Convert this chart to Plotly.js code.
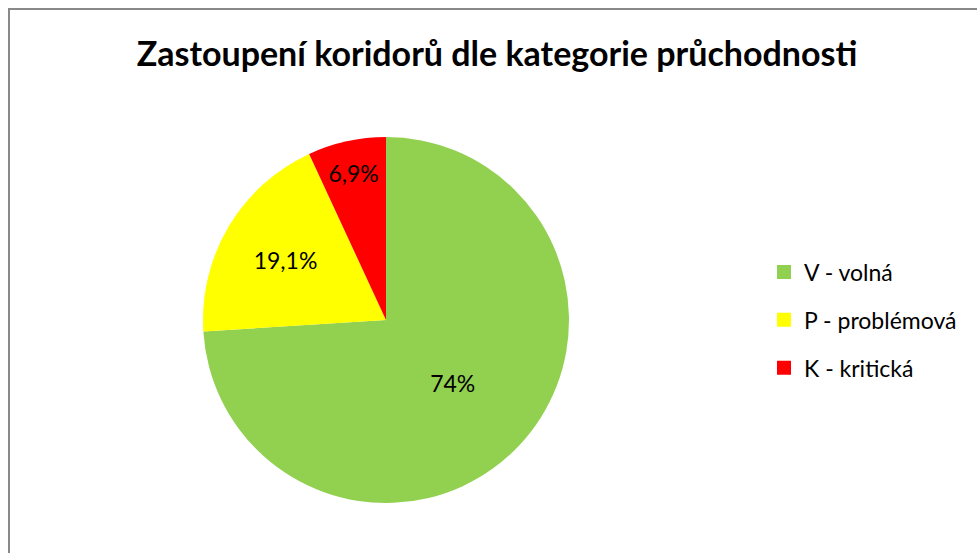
<!DOCTYPE html>
<html>
<head>
<meta charset="utf-8">
<script src="https://cdn.plot.ly/plotly-3.0.1.min.js"></script>
<style>
html,body{margin:0;padding:0;background:#fff;}
#wrap{position:relative;width:977px;height:553px;overflow:hidden;}
#chart{position:absolute;left:0;top:0;width:977px;height:553px;}
#frame{position:absolute;left:8px;top:8px;width:1000px;height:600px;border-left:2px solid #898989;border-top:2px solid #898989;pointer-events:none;}
</style>
</head>
<body>
<div id="wrap"><div id="chart"></div><div id="frame"></div></div>
<script>
const categories = ["V - volná", "P - problémová", "K - kritická"];
const values = [74, 19.1, 6.9];
const valueLabels = ["74%", "19,1%", "6,9%"];
const colors = ["#92D050", "#FFFF00", "#FF0000"];
const titleText = "Zastoupení koridorů dle kategorie průchodnosti";

const FONT = "Lato, 'Open Sans', sans-serif";
const W = 977, H = 553;
const cx = 386, cy = 320, r = 183;

const traces = [{
  type: "pie",
  labels: categories,
  values: values,
  text: valueLabels,
  texttemplate: "%{text}",
  textinfo: "text",
  textposition: "inside",
  insidetextorientation: "horizontal",
  textfont: {family: FONT, size: 23, color: "#000"},
  marker: {colors: colors, line: {width: 0}},
  sort: false,
  direction: "clockwise",
  rotation: 0,
  showlegend: false,
  hoverinfo: "label+percent",
  domain: {x: [(cx - r) / W, (cx + r) / W], y: [(H - cy - r) / H, (H - cy + r) / H]}
}];
categories.forEach((c, i) => {
  traces.push({
    type: "scatter", mode: "markers", x: [null], y: [null],
    name: c, legendgroup: "g" + i,
    marker: {symbol: "square", size: 14, color: colors[i]},
    showlegend: true, hoverinfo: "skip"
  });
});

const layout = {
  width: W, height: H,
  margin: {l: 0, r: 0, t: 0, b: 0},
  paper_bgcolor: "#fff", plot_bgcolor: "rgba(0,0,0,0)",
  title: {text: "<b>" + titleText + "</b>", font: {family: FONT, size: 34, color: "#000"},
          x: 497 / W, xanchor: "center", y: 1 - 54 / H, yanchor: "middle"},
  xaxis: {visible: false, domain: [0.99, 1]},
  yaxis: {visible: false, domain: [0.99, 1]},
  showlegend: true,
  legend: {x: 764 / W, xanchor: "left", y: 1 - 320 / H, yanchor: "middle",
           font: {family: FONT, size: 23, color: "#000"},
           tracegroupgap: 15, itemclick: false, itemwidth: 30, bgcolor: "rgba(0,0,0,0)"}
};
Plotly.newPlot("chart", traces, layout, {displayModeBar: false, staticPlot: true});
</script>
</body>
</html>
